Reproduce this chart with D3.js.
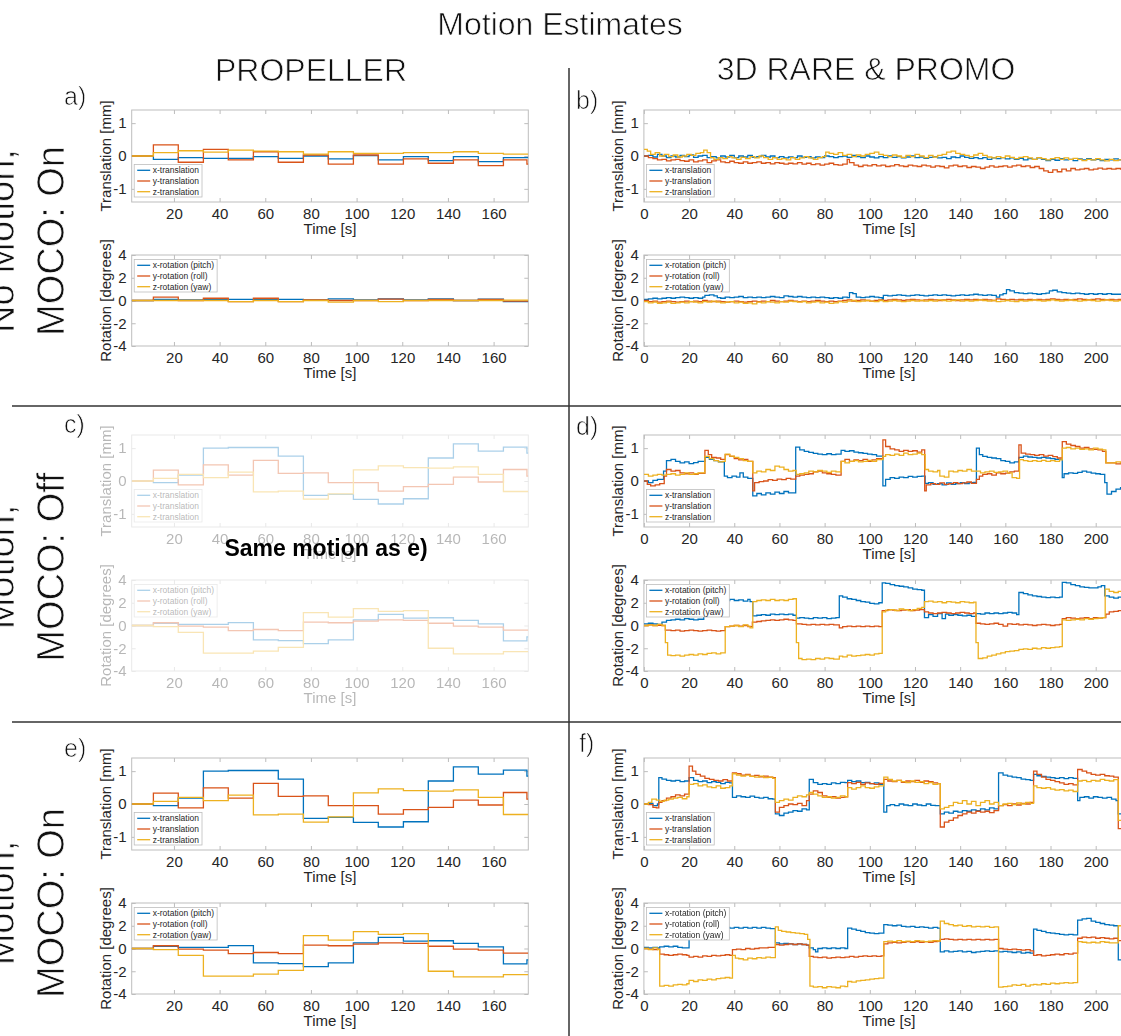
<!DOCTYPE html>
<html>
<head>
<meta charset="utf-8">
<script src="https://cdn.jsdelivr.net/npm/d3@7"></script>
<style>
  body { margin: 0; background: #fff; }
  svg { display: block; }
</style>
</head>
<body>
<svg id="fig" width="1121" height="1036"></svg>
<script>
// ---------- labels ----------
const figTitle = "Motion Estimates";
const columnTitles = ["PROPELLER", "3D RARE & PROMO"];
const rowLabels = [["No Motion,", "MOCO: On"], ["Motion,", "MOCO: Off"], ["Motion,", "MOCO: On"]];
const panelLetters = ["a)", "b)", "c)", "d)", "e)", "f)"];
const transNames = ["x-translation", "y-translation", "z-translation"];
const rotNames = ["x-rotation (pitch)", "y-rotation (roll)", "z-rotation (yaw)"];
const transTicks = [-1, 0, 1];
const rotTicks = [-4, -2, 0, 2, 4];
const propTicks = [20, 40, 60, 80, 100, 120, 140, 160];
const rareTicks = [0, 20, 40, 60, 80, 100, 120, 140, 160, 180, 200];

// ---------- PROPELLER: one estimate per blade (step edges in seconds) ----------
const propTime = [1.5, 11.0, 21.9, 32.9, 43.8, 54.8, 65.7, 76.7, 87.6, 98.6, 109.5, 120.5, 131.4, 142.4, 153.3, 164.3, 174.6, 175.2];

// a) no motion, MOCO on
const aTransX = [0, -0.1, -0.05, -0.07, -0.07, -0.02, -0.07, 0, -0.09, 0.01, -0.12, -0.02, -0.14, -0.02, -0.17, -0.05, -0.05];
const aTransY = [0, 0.34, -0.19, 0.2, -0.12, 0.13, -0.19, 0.03, -0.25, 0.03, -0.25, -0.09, -0.22, -0.12, -0.29, -0.12, -0.25];
const aTransZ = [0, 0.1, 0.16, 0.12, 0.18, 0.15, 0.13, 0.06, 0.13, 0.08, 0.08, 0.1, 0.1, 0.13, 0.08, 0.06, 0.06];
const aRotX = [0, 0.1, 0.05, 0.1, 0.1, 0.1, 0.1, 0.05, 0.15, 0.05, 0.15, 0.05, 0.15, 0, 0.12, -0.1, -0.1];
const aRotY = [0, 0.3, 0, 0.2, -0.1, 0.2, -0.1, 0.05, 0, 0, 0.12, 0, 0.1, 0, 0.1, -0.05, -0.05];
const aRotZ = [0, 0, 0, 0, -0.1, 0, -0.1, 0, -0.15, 0, -0.1, 0, 0, 0, 0, 0.03, 0.03];

// c) and e) motion (same estimates)
const eTransX = [0, -0.05, 0.18, 1.0, 1.02, 1.02, 0.76, -0.44, -0.41, -0.56, -0.7, -0.54, 0.7, 1.13, 0.91, 1.03, 0.85];
const eTransY = [0, 0.33, -0.12, 0.49, 0.18, 0.63, 0.23, 0.25, -0.05, -0.05, -0.31, -0.17, -0.1, 0.12, -0.03, 0.35, 0.15];
const eTransZ = [0, 0.08, 0.2, 0.1, 0.27, -0.33, -0.31, -0.55, -0.39, 0.34, 0.46, 0.41, 0.39, 0.43, 0.2, -0.32, -0.32];
const eRotX = [0, 0.2, 0.1, 0.1, 0.25, -1.27, -1.33, -1.6, -1.27, 0.5, 0.98, 0.65, 0.68, 0.45, 0.15, -1.35, -1.0];
const eRotY = [0, 0.24, -0.05, -0.15, -0.45, -0.35, -0.45, 0.3, 0.24, 0.38, 0.5, 0.45, 0.2, -0.06, -0.15, -0.4, -0.4];
const eRotZ = [0, -0.1, -0.6, -2.43, -2.43, -2.25, -1.93, 1.13, 0.74, 1.48, 1.24, 1.3, -2.0, -2.5, -2.5, -2.3, -2.3];

// ---------- 3D RARE & PROMO: [time s, value] ----------
// b) no motion, MOCO on
const bTransX = [[0,0],[2,0.02],[4,-0.03],[6,0.05],[8,0],[10,-0.05],[12,0],[14,-0.03],[16,0.02],[18,-0.02],[20,0.03],[22,-0.04],[24,0],[26,0.02],[28,-0.05],[30,-0.02],[32,-0.06],[34,0],[36,-0.03],[38,0.02],[40,-0.05],[42,0],[44,-0.03],[46,0.02],[48,-0.04],[50,-0.02],[52,0.02],[54,-0.03],[56,0],[58,-0.05],[60,-0.02],[62,-0.06],[64,-0.03],[66,-0.05],[68,0],[70,-0.04],[72,-0.02],[74,-0.06],[76,-0.03],[78,-0.05],[80,0],[82,-0.02],[84,-0.05],[86,-0.02],[88,0],[90,-0.04],[92,0.02],[94,-0.02],[96,-0.05],[98,0],[100,-0.03],[102,-0.06],[104,-0.02],[106,-0.05],[108,0],[110,-0.04],[112,-0.02],[114,-0.06],[116,-0.03],[118,0],[120,-0.05],[122,-0.03],[124,-0.07],[126,-0.04],[128,-0.02],[130,-0.06],[132,-0.04],[134,-0.08],[136,-0.03],[138,-0.05],[140,0],[142,-0.04],[144,-0.07],[146,-0.05],[148,-0.08],[150,-0.05],[152,-0.1],[154,-0.06],[156,-0.08],[158,-0.05],[160,-0.09],[162,-0.06],[164,-0.1],[166,-0.07],[168,-0.12],[170,-0.08],[172,-0.1],[174,-0.06],[176,-0.1],[178,-0.14],[180,-0.1],[182,-0.13],[184,-0.08],[186,-0.12],[188,-0.1],[190,-0.14],[192,-0.09],[194,-0.12],[196,-0.08],[198,-0.12],[200,-0.1],[202,-0.14],[204,-0.1],[206,-0.12],[208,-0.09],[210,-0.12],[213,-0.12]];
const bTransY = [[0,0],[2,-0.05],[4,-0.08],[6,-0.12],[8,-0.1],[10,-0.15],[12,-0.12],[14,-0.1],[16,-0.14],[18,-0.16],[20,-0.12],[22,-0.18],[24,-0.15],[26,-0.12],[28,-0.2],[30,-0.15],[32,-0.12],[34,-0.18],[36,-0.2],[38,-0.16],[40,-0.2],[42,-0.22],[44,-0.18],[46,-0.22],[48,-0.2],[50,-0.18],[52,-0.22],[54,-0.2],[56,-0.24],[58,-0.2],[60,-0.22],[62,-0.25],[64,-0.22],[66,-0.24],[68,-0.2],[70,-0.25],[72,-0.22],[74,-0.26],[76,-0.24],[78,-0.28],[80,-0.25],[82,-0.22],[84,-0.26],[86,-0.28],[88,-0.25],[90,-0.1],[91,-0.2],[93,-0.28],[95,-0.32],[97,-0.28],[99,-0.3],[101,-0.26],[103,-0.3],[105,-0.28],[107,-0.32],[109,-0.3],[111,-0.26],[113,-0.3],[115,-0.32],[117,-0.28],[119,-0.3],[121,-0.32],[123,-0.28],[125,-0.3],[127,-0.34],[129,-0.3],[131,-0.32],[133,-0.36],[135,-0.3],[137,-0.28],[139,-0.32],[141,-0.3],[143,-0.35],[145,-0.32],[147,-0.34],[149,-0.38],[151,-0.34],[153,-0.3],[155,-0.34],[157,-0.32],[159,-0.3],[161,-0.34],[163,-0.3],[165,-0.28],[167,-0.32],[169,-0.3],[171,-0.35],[173,-0.32],[175,-0.38],[177,-0.45],[179,-0.5],[181,-0.42],[183,-0.48],[185,-0.4],[187,-0.45],[189,-0.38],[191,-0.42],[193,-0.4],[195,-0.38],[197,-0.42],[199,-0.4],[201,-0.37],[203,-0.4],[205,-0.38],[207,-0.4],[209,-0.38],[211,-0.4],[213,-0.4]];
const bTransZ = [[0,0.2],[1.5,0.15],[3,0.05],[5,0.1],[7,0],[9,0.05],[11,-0.02],[13,0.03],[15,-0.03],[17,0],[19,0.05],[21,0.02],[23,0.08],[25,0.1],[26.5,0.18],[28,0.1],[29.5,-0.05],[31,-0.1],[33,-0.05],[35,-0.08],[37,-0.02],[39,-0.06],[41,-0.1],[43,-0.04],[45,-0.08],[47,-0.02],[49,-0.06],[51,0],[53,-0.05],[55,-0.1],[57,-0.05],[59,-0.1],[61,-0.08],[63,-0.12],[65,-0.05],[67,-0.1],[69,-0.06],[71,-0.02],[73,-0.06],[75,-0.1],[77,-0.05],[79,-0.02],[80.5,0.12],[82,0.08],[84,0.05],[86,0.1],[88,0.02],[90,0.05],[92,-0.02],[94,0.03],[96,0],[98,0.05],[100,0.08],[102,0.12],[104,0.05],[106,0.02],[108,-0.02],[110,0.03],[112,0],[114,-0.04],[116,0.02],[118,-0.02],[120,0.05],[122,0],[124,-0.05],[126,0.02],[128,-0.03],[130,0.02],[132,0.05],[134,0.12],[136,0.15],[138,0.08],[140,0.05],[142,0.02],[144,-0.02],[146,0.03],[148,0.08],[150,0.02],[152,-0.03],[154,-0.06],[156,-0.02],[158,-0.05],[160,0],[162,-0.04],[164,-0.08],[166,-0.04],[168,-0.02],[170,-0.06],[172,-0.1],[174,-0.05],[176,-0.08],[178,-0.12],[180,-0.08],[182,-0.05],[184,-0.1],[186,-0.06],[188,-0.1],[190,-0.07],[192,-0.1],[194,-0.14],[196,-0.1],[198,-0.12],[200,-0.08],[202,-0.12],[204,-0.15],[206,-0.1],[208,-0.14],[210,-0.12],[213,-0.12]];
const bRotX = [[0,0.1],[2,0.15],[4,0.2],[6,0.15],[8,0.2],[10,0.25],[12,0.2],[14,0.25],[16,0.3],[18,0.25],[20,0.2],[22,0.25],[24,0.2],[26,0.3],[27,0.45],[29,0.5],[31,0.4],[32.5,0.25],[34,0.2],[36,0.3],[38,0.25],[40,0.3],[42,0.35],[44,0.25],[46,0.3],[48,0.25],[50,0.3],[52,0.25],[54,0.3],[56,0.35],[58,0.3],[60,0.25],[62,0.4],[64,0.35],[66,0.3],[68,0.35],[70,0.3],[72,0.25],[74,0.3],[76,0.25],[78,0.3],[80,0.25],[82,0.2],[84,0.25],[86,0.2],[88,0.3],[90,0.25],[91,0.7],[92.5,0.6],[94,0.3],[96,0.25],[98,0.3],[100,0.35],[102,0.3],[104,0.25],[105.5,0.1],[106,0.45],[108,0.4],[110,0.45],[112,0.5],[114,0.45],[116,0.4],[118,0.45],[120,0.5],[122,0.45],[124,0.4],[126,0.45],[128,0.5],[130,0.45],[132,0.5],[134,0.45],[136,0.4],[138,0.45],[140,0.5],[142,0.45],[144,0.5],[146,0.55],[148,0.5],[150,0.45],[152,0.5],[154,0.45],[156,0.3],[157.5,0.5],[159,0.6],[160.5,0.95],[162,0.85],[164,0.7],[166,0.65],[168,0.6],[170,0.65],[172,0.6],[174,0.55],[176,0.6],[178,0.65],[179.5,0.85],[181,0.9],[183,0.75],[185,0.7],[187,0.65],[189,0.6],[191,0.65],[193,0.6],[195,0.55],[197,0.6],[199,0.55],[201,0.6],[203,0.55],[205,0.6],[207,0.55],[209,0.55],[213,0.55]];
const bRotY = [[0,0],[2,-0.1],[4,-0.05],[6,-0.15],[8,-0.1],[10,-0.05],[12,-0.1],[14,-0.15],[16,-0.1],[18,-0.05],[20,-0.1],[22,-0.05],[24,-0.1],[26,0],[28,-0.05],[30,-0.1],[32,-0.05],[34,-0.1],[36,-0.15],[38,-0.1],[40,-0.05],[42,-0.1],[44,-0.15],[46,-0.1],[48,-0.05],[50,-0.1],[52,-0.05],[54,-0.1],[56,0],[58,-0.05],[60,-0.1],[62,-0.05],[64,0],[66,-0.05],[68,-0.1],[70,-0.05],[72,-0.1],[74,-0.05],[76,0],[78,-0.05],[80,-0.1],[82,-0.05],[84,-0.1],[86,-0.05],[88,0],[90,0.05],[92,-0.05],[94,0],[96,0.05],[98,0],[100,-0.05],[102,0],[104,0.05],[106,0],[108,0.05],[110,0.1],[112,0.05],[114,0],[116,0.05],[118,0.1],[120,0.05],[122,0],[124,0.05],[126,0.1],[128,0.05],[130,0],[132,0.05],[134,0.1],[136,0.05],[138,0],[140,0.05],[142,0.1],[144,0.05],[146,0.1],[148,0.05],[150,0.1],[152,0.05],[154,0],[156,0.15],[158,0.1],[160,0.05],[162,0.1],[164,0.05],[166,0.1],[168,0.05],[170,0.1],[172,0.05],[174,0.1],[176,0.05],[178,0.1],[180,0.15],[182,0.1],[184,0.05],[186,0.1],[188,0.05],[190,0.1],[192,0.15],[194,0.1],[196,0.05],[198,0.1],[200,0.15],[202,0.1],[204,0.05],[206,0.1],[208,0.05],[210,0.1],[213,0.1]];
const bRotZ = [[0,-0.1],[2,-0.2],[4,-0.15],[6,-0.25],[8,-0.2],[10,-0.15],[12,-0.25],[14,-0.2],[16,-0.15],[18,-0.2],[20,-0.1],[22,-0.15],[24,-0.2],[26,-0.1],[28,-0.15],[30,-0.05],[32,-0.15],[34,-0.2],[36,-0.15],[38,-0.1],[40,-0.2],[42,-0.15],[44,-0.25],[46,-0.2],[48,-0.3],[50,-0.15],[52,-0.2],[54,-0.1],[56,-0.15],[58,-0.2],[60,-0.1],[62,-0.15],[64,-0.05],[66,-0.1],[68,-0.15],[70,-0.1],[72,-0.2],[74,-0.15],[76,-0.1],[78,-0.2],[80,-0.15],[82,-0.25],[84,-0.2],[86,-0.1],[88,-0.15],[90,-0.05],[92,0],[94,-0.1],[96,-0.05],[98,0],[100,-0.05],[102,-0.1],[104,0],[106,-0.1],[108,-0.05],[110,0],[112,-0.05],[114,-0.1],[116,-0.05],[118,0],[120,-0.05],[122,0],[124,-0.05],[126,0],[128,-0.05],[130,0.05],[132,0],[134,-0.05],[136,0],[138,0.05],[140,-0.05],[142,0],[144,-0.05],[146,0],[148,0.05],[150,0],[152,-0.05],[154,0],[156,-0.1],[158,-0.05],[160,0],[162,-0.05],[164,-0.1],[166,0],[168,-0.05],[170,0],[172,0.05],[174,0],[176,-0.05],[178,0],[180,0.05],[182,0],[184,-0.05],[186,0],[188,0.05],[190,0],[192,-0.05],[194,0],[196,0.05],[198,0],[200,-0.05],[202,0],[204,0.05],[206,0],[208,-0.05],[210,0],[213,0]];

// d) motion, MOCO off
const dTransX = [[0,0],[2,-0.05],[4,0.02],[6,0.05],[8.7,0.3],[10,0.62],[12,0.66],[14,0.6],[16,0.55],[18,0.58],[20,0.53],[22,0.56],[24,0.6],[27,0.72],[29,0.66],[31,0.62],[33,0.58],[35.6,0.15],[37,0.1],[39,0.15],[41,0.12],[42.5,0.25],[44,0.12],[46,0.08],[48.2,-0.45],[50,-0.38],[52,-0.42],[54,-0.36],[56,-0.4],[58,-0.34],[60,-0.38],[62,-0.32],[64,-0.36],[67.2,1.03],[69,0.95],[71,0.9],[73,0.87],[75,0.84],[77,0.82],[79,0.8],[81,0.83],[83,0.8],[85,0.82],[87.3,0.93],[89,0.9],[91,0.92],[93,0.88],[95,0.86],[97,0.84],[99,0.82],[101,0.8],[103,0.76],[105.8,-0.15],[107,0.05],[109,0.1],[111,0.08],[113,0.12],[115,0.1],[117,0.14],[119,0.12],[121,0.14],[123,0.15],[124.5,-0.07],[126,-0.05],[128,-0.1],[130,-0.08],[132,-0.12],[134,-0.06],[136,-0.1],[138,-0.08],[140,-0.05],[142,-0.08],[144,-0.05],[146,-0.04],[147.2,1.0],[148.5,0.8],[150,0.75],[152,0.72],[154,0.7],[156,0.68],[158,0.62],[160,0.6],[162,0.55],[164,0.58],[166,0.72],[168,0.76],[170,0.73],[172,0.72],[174,0.7],[176,0.72],[178,0.7],[180,0.68],[182,0.66],[185.2,0.1],[186,0.22],[188,0.25],[190,0.23],[192,0.26],[194,0.3],[196,0.27],[198,0.24],[200,0.22],[202,0.2],[204,-0.05],[205,-0.4],[207,-0.32],[209,-0.25],[211,-0.2],[213,-0.18]];
const dTransY = [[0,0],[1.5,-0.1],[3,-0.15],[5,-0.12],[7,-0.08],[9,0.15],[10,0.35],[12,0.3],[14,0.32],[16,0.25],[18,0.22],[20,0.25],[22,0.2],[24,0.23],[27,0.93],[28.5,0.8],[30,0.72],[32,0.7],[34,0.66],[36,0.8],[38,0.75],[40,0.68],[42,0.64],[44,0.66],[46,0.6],[48.2,-0.3],[49,-0.05],[51,-0.02],[53,0],[55,0.04],[57,0.02],[59,0.06],[61,0.04],[63,0.08],[65,0.06],[67.2,0.15],[69,0.18],[71,0.2],[73,0.22],[75,0.28],[77,0.3],[79,0.25],[81,0.22],[83,0.2],[85,0.18],[87.3,0.6],[89,0.66],[91,0.6],[93,0.64],[95,0.62],[97,0.66],[99,0.6],[101,0.64],[103,0.68],[105.8,1.25],[107,1.05],[109,0.98],[111,0.95],[113,0.9],[115,0.93],[117,0.9],[119,0.92],[121,0.88],[123,0.95],[124.3,-0.3],[125,-0.12],[127,-0.08],[129,-0.1],[131,-0.06],[133,-0.1],[135,-0.08],[137,-0.05],[139,-0.08],[141,-0.06],[143,-0.03],[145,-0.07],[147.2,0.05],[148.5,0.15],[150,0.2],[152,0.22],[154,0.18],[156,0.25],[158,0.22],[160,0.24],[162,0.28],[164,0.3],[166,1.1],[167,0.85],[169,0.82],[171,0.8],[173,0.78],[175,0.8],[177,0.76],[179,0.78],[181,0.74],[183,0.7],[185.2,1.2],[187,1.12],[189,1.08],[191,1.05],[193,1.0],[195,1.02],[197,0.98],[199,0.96],[201,0.95],[203,0.9],[204.5,0.55],[207,0.55],[209,0.52],[211,0.55],[213,0.5]];
const dTransZ = [[0,0.2],[2,0.15],[4,0.18],[6,0.2],[8,0.18],[10,0.2],[12,0.22],[14,0.18],[16,0.2],[18,0.25],[20,0.2],[22,0.22],[24,0.25],[27,0.75],[29,0.68],[31,0.62],[33,0.58],[35,0.6],[36,0.82],[38,0.76],[40,0.72],[42,0.68],[44,0.62],[46,0.6],[48.2,0.25],[50,0.3],[52,0.28],[54,0.35],[56,0.32],[58,0.45],[60,0.42],[62,0.35],[64,0.3],[66,0.32],[67.4,0.2],[69,0.22],[71,0.25],[73,0.3],[75,0.28],[77,0.32],[79,0.3],[81,0.26],[83,0.3],[85,0.28],[87.3,0.6],[89,0.55],[91,0.6],[93,0.62],[95,0.58],[97,0.6],[99,0.63],[101,0.6],[103,0.65],[105.8,0.75],[107,0.8],[109,0.78],[111,0.82],[113,0.78],[115,0.85],[117,0.8],[119,0.82],[121,0.85],[123,0.8],[124.5,0.35],[126,0.3],[128,0.28],[130,0.32],[131,0.15],[133,0.12],[135,0.3],[137,0.28],[139,0.32],[141,0.3],[143,0.35],[145,0.3],[147.2,0.3],[149,0.25],[151,0.28],[153,0.3],[155,0.26],[157,0.28],[159,0.3],[161,0.25],[163,0.1],[165,0.08],[166.3,0.65],[168,0.62],[170,0.6],[172,0.62],[174,0.6],[176,0.63],[178,0.6],[180,0.62],[182,0.6],[184,0.64],[185.2,1.0],[187,1.02],[189,0.98],[191,1.0],[193,0.96],[195,0.98],[197,0.95],[199,1.0],[201,0.97],[203,0.95],[204.5,0.55],[207,0.55],[209,0.58],[211,0.55],[213,0.55]];
const dRotX = [[0,0.15],[2,0.2],[4,0.15],[6,0.1],[8,0.3],[10,0.45],[12,0.5],[14,0.55],[16,0.5],[18,0.6],[20,0.55],[22,0.5],[24,0.55],[26.5,2.0],[28,2.1],[30,2.2],[32,2.1],[34,2.25],[36,2.2],[38,2.3],[40,2.2],[42,2.25],[44,2.15],[46,2.3],[47,2.1],[48.2,0.85],[50,0.9],[52,0.95],[54,0.9],[56,1.0],[58,0.95],[60,1.0],[62,0.95],[64,1.0],[66,0.9],[67.5,0.65],[69,0.7],[71,0.65],[73,0.6],[75,0.7],[77,0.65],[79,0.7],[81,0.6],[83,0.65],[85,0.7],[86.5,2.6],[88,2.5],[90,2.35],[92,2.3],[94,2.2],[96,2.1],[98,2.05],[100,1.95],[102,1.9],[104,2.0],[105.5,3.75],[107,3.7],[109,3.6],[111,3.5],[113,3.45],[115,3.4],[117,3.3],[119,3.2],[121,3.15],[123,3.1],[124.2,0.7],[126,0.95],[128,0.8],[130,1.05],[132,0.6],[133.5,1.0],[135,0.9],[137,0.95],[139,0.9],[141,0.85],[143,0.9],[145,0.8],[147,1.05],[149,1.0],[151,1.1],[153,1.05],[155,1.1],[157,1.05],[159,1.1],[161,1.15],[163,1.1],[165,0.95],[166,2.9],[168,2.8],[170,2.7],[172,2.6],[174,2.55],[176,2.5],[178,2.45],[180,2.5],[182,2.45],[184,2.5],[185.2,3.8],[187,3.75],[189,3.6],[191,3.5],[193,3.4],[195,3.35],[197,3.3],[199,3.3],[201,3.4],[202.5,3.5],[204,2.6],[206,2.5],[208,2.4],[210,2.5],[213,2.5]];
const dRotY = [[0,0],[2,0.05],[4,0],[6,0.02],[8,0],[9.5,-0.4],[12,-0.45],[14,-0.4],[16,-0.5],[18,-0.45],[20,-0.4],[22,-0.45],[24,-0.5],[26,-0.45],[28,-0.4],[30,-0.45],[32,-0.5],[34,-0.45],[36,-0.1],[38,-0.05],[40,0],[42,-0.05],[44,0],[46,-0.1],[48,0.3],[50,0.35],[52,0.4],[54,0.45],[56,0.5],[58,0.45],[60,0.5],[62,0.55],[64,0.5],[66,0.45],[67.5,0.15],[70,0.1],[72,0.05],[74,0.1],[76,0.05],[78,0.1],[80,0.05],[82,0.1],[84,0.05],[86.5,-0.2],[88,-0.1],[90,-0.05],[92,-0.1],[94,-0.05],[96,-0.1],[98,-0.05],[100,-0.1],[102,-0.05],[104,-0.1],[105.5,1.3],[108,1.4],[110,1.35],[112,1.3],[114,1.35],[116,1.4],[118,1.3],[120,1.35],[122,1.4],[124.2,1.2],[126,1.1],[128,1.05],[130,1.1],[132,1.15],[134,1.1],[136,1.05],[138,1.1],[140,1.15],[142,1.1],[144,1.05],[146,1.1],[147,0.2],[149,0.15],[151,0.1],[153,0.15],[155,0.2],[157,0.1],[159,-0.05],[161,0.15],[163,0.1],[165,0.15],[166,0.05],[168,0.1],[170,0.05],[172,0],[174,0.05],[176,0.1],[178,0.05],[180,0],[182,0.05],[184,0.1],[185.2,0.6],[187,0.7],[189,0.65],[191,0.6],[193,0.65],[195,0.7],[197,0.6],[199,0.7],[201,0.65],[203,0.7],[204.5,1.0],[206,1.2],[208,1.25],[210,1.3],[213,1.3]];
const dRotZ = [[0,0],[2,0.05],[4,0],[6,0.1],[8,0],[9.5,-1.5],[10.5,-2.6],[12,-2.65],[14,-2.6],[16,-2.7],[18,-2.6],[20,-2.55],[22,-2.6],[24,-2.5],[26,-2.55],[28,-2.45],[30,-2.4],[32,-2.5],[34,-2.4],[36,-0.1],[38,-0.05],[40,0],[42,-0.1],[44,0.05],[46,-0.05],[47,-0.2],[48.2,2.1],[50,2.2],[52,2.25],[54,2.2],[56,2.3],[58,2.2],[60,2.25],[62,2.2],[64,2.3],[66,2.35],[67.5,-1.5],[68.5,-2.9],[70,-3.0],[72,-2.95],[74,-3.0],[76,-2.9],[78,-2.95],[80,-2.85],[82,-2.9],[84,-2.95],[86.5,-2.7],[88,-2.75],[90,-2.6],[92,-2.7],[94,-2.65],[96,-2.6],[98,-2.55],[100,-2.6],[102,-2.5],[104,-2.45],[105.5,1.2],[107,1.35],[109,1.4],[111,1.3],[113,1.45],[115,1.4],[117,1.3],[119,1.4],[121,1.5],[123,1.6],[124.2,2.1],[126,2.15],[128,2.05],[130,2.1],[132,2.0],[134,2.1],[136,2.05],[138,2.0],[140,2.1],[142,2.05],[144,2.0],[146,2.05],[147,-1.5],[148,-2.9],[150,-2.85],[152,-2.7],[154,-2.6],[156,-2.5],[158,-2.4],[160,-2.3],[162,-2.25],[164,-2.2],[166,-2.1],[168,-2.05],[170,-2.1],[172,-2.0],[174,-2.05],[176,-1.95],[178,-2.0],[180,-1.95],[182,-1.9],[184,-1.85],[185.2,0.5],[187,0.45],[189,0.5],[191,0.55],[193,0.5],[195,0.6],[197,0.55],[199,0.6],[201,0.65],[203,0.7],[204.2,3.2],[206,3.0],[208,2.9],[210,3.0],[213,3.0]];

// f) motion, MOCO on
const fTransX = [[0,0],[2,0.02],[4,-0.05],[6,0],[6.6,0.8],[8,0.76],[10,0.72],[12,0.7],[14,0.72],[16,0.68],[18,0.7],[20,0.8],[22,0.72],[24,0.68],[26,0.7],[28,0.65],[30,0.68],[32,0.66],[34,0.62],[36,0.66],[38,0.64],[39.2,0.2],[41,0.25],[43,0.22],[45,0.2],[47,0.24],[49,0.2],[51,0.18],[53,0.2],[55,0.16],[57,0.15],[58.2,-0.3],[60,-0.35],[62,-0.28],[64,-0.25],[66,-0.2],[68,-0.22],[70,-0.15],[72,-0.18],[73.2,0.75],[75,0.65],[77,0.6],[79,0.62],[81,0.6],[83,0.64],[85,0.62],[87,0.66],[89,0.65],[90.2,0.72],[92,0.68],[94,0.7],[96,0.65],[98,0.66],[100,0.62],[102,0.64],[104,0.6],[106.2,-0.25],[107.5,-0.05],[109,-0.02],[111,-0.05],[113,0],[115,-0.03],[117,-0.05],[119,0],[121,-0.03],[123,-0.05],[125,0],[127,-0.04],[129,-0.05],[131.2,-0.3],[133,-0.25],[135,-0.28],[137,-0.22],[139,-0.25],[141,-0.2],[143,-0.22],[145,-0.18],[147,-0.2],[149,-0.15],[151,-0.18],[153,-0.12],[155,-0.15],[157,0.95],[159,0.88],[161,0.85],[163,0.82],[165,0.8],[167,0.76],[169,0.74],[171,0.72],[172.5,0.9],[174,0.86],[176,0.84],[178,0.82],[180,0.8],[182,0.78],[184,0.8],[186,0.77],[188,0.8],[190,0.78],[192,0.1],[193,0.2],[195,0.22],[197,0.18],[199,0.22],[201,0.2],[203,0.18],[205,0.2],[207,0.15],[209,0.1],[210,-0.3],[213,-0.25]];
const fTransY = [[0,0],[2,-0.02],[4,-0.1],[5.5,-0.12],[6.6,0.05],[8,0.1],[10,0.18],[12,0.22],[14,0.28],[16,0.25],[18,0.3],[20,1.15],[21.5,1.0],[23,0.9],[25,0.85],[27,0.78],[29,0.75],[31,0.72],[33,0.7],[35,0.74],[37,0.7],[39.2,0.95],[41,0.92],[43,0.88],[45,0.9],[47,0.85],[49,0.87],[51,0.83],[53,0.85],[55,0.82],[57,0.8],[58.2,-0.25],[60,-0.1],[62,-0.05],[64,0],[66,-0.02],[68,0.02],[70,-0.05],[72,0.1],[73.2,0.3],[75,0.4],[77,0.35],[79,0.25],[81,0.2],[83,0.22],[85,0.18],[87,0.2],[89,0.22],[90.2,0.65],[92,0.62],[94,0.66],[96,0.6],[98,0.64],[100,0.62],[102,0.6],[104,0.63],[106.2,0.75],[108,0.7],[110,0.68],[112,0.72],[114,0.66],[116,0.7],[118,0.68],[120,0.72],[122,0.66],[124,0.7],[126,0.68],[128,0.64],[130,0.62],[131.2,-0.7],[133,-0.55],[135,-0.5],[137,-0.42],[139,-0.35],[141,-0.3],[143,-0.25],[145,-0.28],[147,-0.22],[149,-0.25],[151,-0.22],[153,-0.26],[155,-0.2],[157,-0.05],[159,-0.02],[161,-0.05],[163,0],[165,-0.03],[167,0.02],[169,0],[171,0.05],[172.5,1.0],[174,0.9],[176,0.82],[178,0.75],[180,0.72],[182,0.68],[184,0.64],[186,0.6],[188,0.62],[190,0.58],[192,1.05],[194,1.0],[196,0.95],[198,0.9],[200,0.88],[202,0.9],[204,0.86],[206,0.85],[208,0.82],[210,-0.75],[213,-0.7]];
const fTransZ = [[0,0],[2,0.05],[3.5,0.15],[5.5,0.12],[7,0.08],[9,0.12],[11,0.15],[13,0.18],[15,0.2],[17,0.16],[19,0.22],[20,0.6],[22,0.62],[24,0.55],[26,0.58],[28,0.52],[30,0.5],[32,0.55],[34,0.48],[36,0.5],[38,0.55],[39.2,0.92],[41,0.88],[43,0.85],[45,0.88],[47,0.84],[49,0.82],[51,0.85],[53,0.8],[55,0.82],[57,0.78],[58.2,0.05],[60,0.1],[62,0.15],[64,0.12],[66,0.2],[68,0.25],[70,0.22],[72,0.28],[73.2,0.35],[75,0.3],[77,0.25],[79,0.2],[81,0.22],[83,0.18],[85,0.2],[87,0.25],[89,0.22],[90.2,0.5],[92,0.45],[94,0.5],[96,0.55],[98,0.5],[100,0.48],[102,0.52],[104,0.55],[106.2,0.82],[108,0.75],[110,0.7],[112,0.72],[114,0.68],[116,0.65],[118,0.7],[120,0.66],[122,0.68],[124,0.62],[126,0.65],[128,0.6],[130,0.62],[131.2,-0.15],[133,-0.1],[135,-0.05],[137,0.05],[139,0.02],[141,0.1],[143,0],[145,0.08],[147,-0.05],[149,0.05],[151,0.1],[153,0],[155,0.05],[157,-0.05],[159,0],[161,0.02],[163,-0.02],[165,0.03],[167,0],[169,0.05],[171,0.02],[172.5,0.55],[174,0.5],[176,0.48],[178,0.5],[180,0.45],[182,0.42],[184,0.44],[186,0.4],[188,0.42],[190,0.38],[192,0.7],[194,0.72],[196,0.68],[198,0.72],[200,0.7],[202,0.75],[204,0.72],[206,0.7],[208,0.74],[210,-0.5],[213,-0.45]];
const fRotX = [[0,0.1],[2,0.05],[4,0.1],[6,0.05],[7,0.15],[9,0.2],[11,0.15],[13,0.2],[15,0.1],[17,0.05],[19,0.05],[20,2.1],[22,2.15],[24,2.0],[26,1.9],[28,1.85],[30,1.8],[32,1.85],[34,1.8],[36,1.85],[38,1.8],[40,1.85],[42,1.8],[44,1.85],[46,1.8],[48,1.85],[50,1.8],[52,1.85],[54,1.8],[56,1.75],[58.2,0.5],[60,0.4],[62,0.45],[64,0.4],[66,0.35],[68,0.4],[70,0.35],[72,0.3],[73.2,0.05],[75,-0.1],[76,-0.3],[77,0],[79,0.05],[81,0],[83,0.05],[85,0],[87,0.05],[89,0],[90.2,1.8],[92,1.7],[94,1.6],[96,1.5],[98,1.4],[100,1.35],[102,1.3],[104,1.35],[106.2,2.1],[108,2.05],[110,2.0],[112,2.05],[114,1.95],[116,1.9],[118,1.95],[120,1.85],[122,1.9],[124,1.85],[126,1.8],[128,1.85],[130,1.8],[131.2,-0.3],[133,-0.2],[135,-0.3],[137,-0.25],[139,-0.2],[141,-0.3],[143,-0.25],[145,-0.35],[147,-0.3],[149,-0.25],[151,-0.2],[153,-0.25],[155,-0.2],[157,-0.3],[159,-0.25],[161,-0.3],[163,-0.35],[165,-0.3],[167,-0.4],[169,-0.35],[171,-0.4],[172.5,1.7],[174,1.6],[176,1.5],[178,1.4],[180,1.35],[182,1.3],[184,1.25],[186,1.2],[188,1.25],[190,1.2],[192,2.5],[194,2.6],[196,2.65],[198,2.4],[200,2.3],[202,2.2],[204,2.1],[206,2.05],[208,2.0],[210,-1.0],[213,-1.0]];
const fRotY = [[0,0],[2,-0.05],[4,-0.1],[6,-0.05],[7,-0.5],[9,-0.55],[11,-0.6],[13,-0.55],[15,-0.5],[17,-0.55],[19,-0.6],[20,-0.75],[22,-0.7],[24,-0.75],[26,-0.65],[28,-0.7],[30,-0.6],[32,-0.65],[34,-0.6],[36,-0.55],[38,-0.6],[39.2,-0.1],[41,-0.05],[43,-0.1],[45,0],[47,-0.05],[49,0],[51,0.05],[53,0.05],[55,0.1],[57,0.1],[58.2,0.35],[60,0.3],[62,0.35],[64,0.4],[66,0.35],[68,0.4],[70,0.35],[72,0.3],[73.2,-0.7],[75,-0.75],[77,-0.8],[79,-0.75],[81,-0.85],[83,-0.8],[85,-0.75],[87,-0.8],[89,-0.75],[91,-0.7],[93,-0.75],[95,-0.7],[97,-0.65],[99,-0.7],[101,-0.65],[103,-0.7],[105,-0.65],[106.2,0.4],[108,0.5],[110,0.55],[112,0.5],[114,0.55],[116,0.6],[118,0.55],[120,0.6],[122,0.55],[124,0.6],[126,0.55],[128,0.6],[130,0.65],[131.2,0.8],[133,0.85],[135,0.8],[137,0.75],[139,0.8],[141,0.75],[143,0.8],[145,0.75],[147,0.8],[149,0.75],[151,0.8],[153,0.75],[155,0.8],[157,0],[159,-0.05],[161,-0.1],[163,-0.05],[165,-0.1],[167,-0.15],[169,-0.1],[171,-0.2],[172.5,-0.6],[174,-0.55],[176,-0.65],[178,-0.6],[180,-0.55],[182,-0.5],[184,-0.55],[186,-0.45],[188,-0.5],[190,-0.4],[192,0.9],[194,1.0],[196,0.95],[198,1.0],[200,0.9],[202,0.95],[204,0.9],[206,0.85],[208,0.9],[210,0.7],[213,0.7]];
const fRotZ = [[0,0],[2,-0.1],[4,0.05],[6,-0.1],[7,-3.3],[9,-3.25],[11,-3.3],[13,-3.2],[15,-3.15],[17,-3.2],[19,-3.1],[20,-2.8],[22,-2.9],[24,-2.75],[26,-2.8],[28,-2.7],[30,-2.75],[32,-2.65],[34,-2.6],[36,-2.55],[38,-2.6],[39.2,-0.6],[40.5,-0.85],[42,-0.9],[44,-1.0],[46,-0.85],[48,-0.9],[50,-0.8],[52,-0.85],[54,-0.75],[56,-0.8],[58.2,1.9],[59.5,1.6],[61,1.5],[63,1.45],[65,1.4],[67,1.35],[69,1.3],[71,1.25],[72.5,0.8],[73.5,-3.3],[75,-3.4],[77,-3.35],[79,-3.45],[81,-3.35],[83,-3.4],[85,-3.45],[87,-3.3],[89,-3.35],[90.2,-2.9],[92,-2.95],[94,-2.85],[96,-2.8],[98,-2.75],[100,-2.7],[102,-2.65],[104,-2.6],[106.2,0.6],[108,0.65],[110,0.6],[112,0.7],[114,0.6],[116,0.65],[118,0.6],[120,0.7],[122,0.65],[124,0.6],[126,0.65],[128,0.7],[130,0.65],[131.2,2.4],[133,2.2],[135,2.1],[137,2.0],[139,2.05],[141,1.95],[143,2.0],[145,1.9],[147,1.95],[149,1.9],[151,1.95],[153,1.85],[155,1.9],[157,-3.4],[159,-3.35],[161,-3.3],[163,-3.2],[165,-3.25],[167,-3.15],[169,-3.3],[171,-3.2],[172.5,-3.15],[174,-3.2],[176,-3.1],[178,-3.15],[180,-3.05],[182,-3.1],[184,-3.05],[186,-3.0],[188,-3.05],[190,-3.0],[192,0.6],[194,0.55],[196,0.5],[198,0.55],[200,0.5],[202,0.6],[204,0.55],[206,0.5],[208,0.5],[210,2.0],[213,2.0]];

// ---------- drawing ----------
const FONT = "'Liberation Sans', Arial, Helvetica, sans-serif";
const seriesColors = ["#0072BD", "#D95319", "#EDB120"];
const boxColor = "#bdbdbd";
const textColor = "#262626";

const svg = d3.select("#fig").attr("font-family", FONT);

const propX = d3.scaleLinear().domain([1.5, 175.2]).range([131.7, 528.3]);
const rareX = d3.scaleLinear().domain([0, 217]).range([643.9, 1134.1]);
const transTop = [110, 435, 758];
const rotTop = [255, 580, 903];
const transH = 92, rotH = 91;

// blade-wise estimates -> step points
const steps = vals => propTime.map((t, i) => [t, vals[Math.min(i, vals.length - 1)]]);

let clipId = 0;
function drawPlot(opts) {
  const g = svg.append("g").attr("opacity", opts.opacity == null ? 1 : opts.opacity);
  const x = opts.x;
  const y = d3.scaleLinear().domain(opts.yDomain).range([opts.top + opts.h, opts.top]);
  const [x0, x1] = x.range();
  const top = opts.top, bot = opts.top + opts.h;

  const cid = "clip" + (clipId++);
  g.append("clipPath").attr("id", cid).append("rect")
    .attr("x", x0).attr("y", top).attr("width", x1 - x0).attr("height", opts.h);

  // axes with inward ticks on all four sides
  const fmt = d => String(d);
  const styleAxis = sel => {
    sel.select(".domain").remove();
    sel.selectAll(".tick line").attr("stroke", boxColor);
    sel.selectAll(".tick text").attr("fill", textColor).attr("font-size", 15).attr("font-family", FONT);
  };
  g.append("g").attr("transform", `translate(0,${bot})`)
    .call(d3.axisBottom(x).tickValues(opts.xTicks).tickSizeInner(-4).tickSizeOuter(0).tickPadding(6).tickFormat(fmt))
    .call(styleAxis);
  g.append("g").attr("transform", `translate(0,${top})`)
    .call(d3.axisTop(x).tickValues(opts.xTicks).tickSizeInner(-4).tickSizeOuter(0).tickFormat(""))
    .call(styleAxis);
  g.append("g").attr("transform", `translate(${x0},0)`)
    .call(d3.axisLeft(y).tickValues(opts.yTicks).tickSizeInner(-4).tickSizeOuter(0).tickPadding(5).tickFormat(fmt))
    .call(styleAxis);
  g.append("g").attr("transform", `translate(${x1},0)`)
    .call(d3.axisRight(y).tickValues(opts.yTicks).tickSizeInner(-4).tickSizeOuter(0).tickFormat(""))
    .call(styleAxis);

  g.append("rect").attr("x", x0).attr("y", top).attr("width", x1 - x0).attr("height", opts.h)
    .attr("fill", "none").attr("stroke", boxColor).attr("stroke-width", 1);

  // traces
  const line = d3.line().curve(d3.curveStepAfter).x(d => x(d[0])).y(d => y(d[1]));
  const lg = g.append("g").attr("clip-path", `url(#${cid})`);
  opts.series.forEach((pts, i) => {
    lg.append("path").attr("d", line(pts)).attr("fill", "none")
      .attr("stroke", seriesColors[i]).attr("stroke-width", 1.3).attr("stroke-linejoin", "miter");
  });

  // axis titles
  const xMid = (x0 + Math.min(x1, 1134)) / 2;
  g.append("text").attr("x", xMid).attr("y", bot + 32).attr("text-anchor", "middle")
    .attr("font-size", 15).attr("fill", textColor).text("Time [s]");
  g.append("text").attr("transform", `translate(${x0 - 20.5},${(top + bot) / 2}) rotate(-90)`)
    .attr("text-anchor", "middle").attr("font-size", 15).attr("fill", textColor).text(opts.yLabel);

  // legend
  const lgnd = g.append("g");
  const rowH = 10.7, lh = 32.5;
  const ly = opts.legendAtTop ? top + 4.5 : bot - 5 - lh;
  const lx = x0 + 2.5;
  const box = lgnd.append("rect").attr("x", lx).attr("y", ly).attr("height", lh)
    .attr("fill", "#fff").attr("stroke", boxColor).attr("stroke-width", 0.8);
  let maxW = 0;
  opts.names.forEach((name, i) => {
    const cy = ly + 5.8 + i * rowH;
    lgnd.append("line").attr("x1", lx + 3).attr("x2", lx + 16).attr("y1", cy).attr("y2", cy)
      .attr("stroke", seriesColors[i]).attr("stroke-width", 1.3);
    const t = lgnd.append("text").attr("x", lx + 18.5).attr("y", cy).attr("dy", "0.34em")
      .attr("font-size", 8.5).attr("fill", textColor).text(name);
    maxW = Math.max(maxW, t.node().getComputedTextLength());
  });
  box.attr("width", maxW + 21.5);
  return g;
}

const rows = [
  { left: [aTransX, aTransY, aTransZ, aRotX, aRotY, aRotZ],
    right: [bTransX, bTransY, bTransZ, bRotX, bRotY, bRotZ] },
  { left: [eTransX, eTransY, eTransZ, eRotX, eRotY, eRotZ],
    right: [dTransX, dTransY, dTransZ, dRotX, dRotY, dRotZ], faded: true },
  { left: [eTransX, eTransY, eTransZ, eRotX, eRotY, eRotZ],
    right: [fTransX, fTransY, fTransZ, fRotX, fRotY, fRotZ] }
];

rows.forEach((row, r) => {
  const op = row.faded ? 0.33 : 1;
  const L = row.left.map(steps);
  drawPlot({ x: propX, top: transTop[r], h: transH, yDomain: [-1.4, 1.4], yTicks: transTicks,
    xTicks: propTicks, yLabel: "Translation [mm]", names: transNames, series: L.slice(0, 3), opacity: op });
  drawPlot({ x: propX, top: rotTop[r], h: rotH, yDomain: [-4, 4], yTicks: rotTicks,
    xTicks: propTicks, yLabel: "Rotation [degrees]", names: rotNames, series: L.slice(3), legendAtTop: true, opacity: op });
  drawPlot({ x: rareX, top: transTop[r], h: transH, yDomain: [-1.4, 1.4], yTicks: transTicks,
    xTicks: rareTicks, yLabel: "Translation [mm]", names: transNames, series: row.right.slice(0, 3) });
  drawPlot({ x: rareX, top: rotTop[r], h: rotH, yDomain: [-4, 4], yTicks: rotTicks,
    xTicks: rareTicks, yLabel: "Rotation [degrees]", names: rotNames, series: row.right.slice(3), legendAtTop: true });
});

// note over the faded PROPELLER panel
svg.append("text").attr("x", 326).attr("y", 556).attr("text-anchor", "middle")
  .attr("font-size", 23).attr("font-weight", "bold").attr("fill", "#000").text("Same motion as e)");

// large captions are drawn with a thin white outline so the strokes read lighter
const thin = sel => sel.attr("stroke", "#fff").attr("stroke-width", 0.7).attr("stroke-linejoin", "round");

// titles
svg.append("text").attr("x", 560).attr("y", 35).attr("text-anchor", "middle")
  .attr("font-size", 32).attr("fill", "#111").text(figTitle).call(thin);
svg.append("text").attr("x", 311).attr("y", 81).attr("text-anchor", "middle")
  .attr("font-size", 32).attr("fill", "#111").text(columnTitles[0]).call(thin);
svg.append("text").attr("x", 866).attr("y", 80).attr("text-anchor", "middle")
  .attr("font-size", 32).attr("fill", "#111").text(columnTitles[1]).call(thin);

// panel letters
const letterPos = [[64, 105], [576, 109], [64, 433], [576, 435], [64, 757], [579, 752]];
panelLetters.forEach((s, i) => {
  svg.append("text").attr("x", letterPos[i][0]).attr("y", letterPos[i][1])
    .attr("font-size", 25).attr("fill", "#111").text(s).call(thin);
});

// row labels (rotated, first line running past the left edge)
const rowCenters = [241, 567, 903];
rowLabels.forEach((lines, i) => {
  const g = svg.append("g").attr("transform", `translate(64,${rowCenters[i]}) rotate(-90)`);
  lines.forEach((s, j) => {
    g.append("text").attr("x", 0).attr("y", (j - 1) * 50).attr("text-anchor", "middle")
      .attr("font-size", 38).attr("fill", "#111").text(s).call(thin);
  });
});

// separators
svg.append("line").attr("x1", 569).attr("x2", 569).attr("y1", 68).attr("y2", 1036)
  .attr("stroke", "#333").attr("stroke-width", 1.5);
[406, 722].forEach(yy => {
  svg.append("line").attr("x1", 12).attr("x2", 1121).attr("y1", yy).attr("y2", yy)
    .attr("stroke", "#333").attr("stroke-width", 1.5);
});
</script>
</body>
</html>
